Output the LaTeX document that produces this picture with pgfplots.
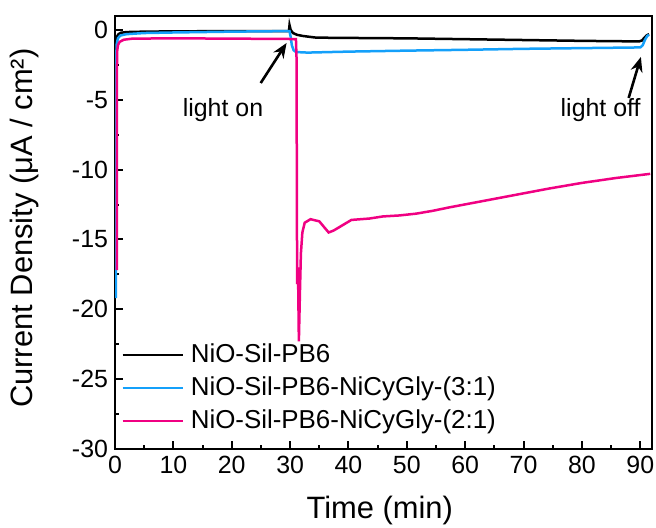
\documentclass[border=0pt]{standalone}
\usepackage{fontspec}
\setmainfont{Liberation Sans}
\usepackage{pgfplots}
\pgfplotsset{compat=1.18}
\usetikzlibrary{arrows.meta}
\definecolor{cblue}{RGB}{20,160,250}
\definecolor{cpink}{RGB}{240,0,130}
\begin{document}
\begin{tikzpicture}
\begin{axis}[
 width=268.5bp, height=216.5bp, scale only axis,
 xmin=0, xmax=92, ymin=-30, ymax=1,
 xtick={0,10,...,90}, ytick={-30,-25,...,0},
 minor x tick num=1, minor y tick num=1,
 xtick pos=bottom, ytick pos=left, tick align=inside,
 major tick length=4bp, minor tick length=2bp,
 every tick/.style={black, line width=1bp},
 axis line style={line width=1bp},
 /pgf/number format/assume math mode=true,
 tick label style={font=\fontsize{12.5}{14}\selectfont},
 xlabel={Time (min)}, ylabel={Current Density (μA / cm²)},
 label style={font=\fontsize{15.5}{18}\selectfont},
 xlabel style={at={(axis description cs:0.493,-0.142)}, anchor=center},
 ylabel style={at={(axis description cs:-0.168,0.51)}, anchor=center},
 legend style={at={(axis description cs:0.011,0.2525)}, anchor=north west,
   draw=none, fill=none, font=\fontsize{13}{15}\selectfont, inner sep=0pt,
   row sep=1.5bp, column sep=2.5bp, nodes={inner sep=1bp, text height=10bp, text depth=3bp}},
 legend cell align=left,
 legend image code/.code={\draw[#1, line width=1.25bp] (0bp,0bp) -- (30bp,0bp);},
]
\addplot[black, line width=1.25bp] coordinates {
(0,-1.0)(0.1,-0.8)(0.3,-0.5)(0.6,-0.3)(1,-0.2)(2,-0.15)(5,-0.12)(10,-0.1)(20,-0.08)(29.8,-0.08)
(29.9,0.35)(30.1,0.0)(30.5,-0.22)(31.2,-0.35)(32.2,-0.43)(33.5,-0.5)(34.5,-0.55)(40,-0.57)
(50,-0.6)(60,-0.66)(70,-0.72)(80,-0.78)(89.8,-0.82)(90.3,-0.75)(90.7,-0.55)(91.1,-0.38)(91.5,-0.3)};
\addlegendentry{NiO-Sil-PB6}
\addplot[cblue, line width=1.25bp] coordinates {
(0.15,-19.2)(0.18,-10)(0.2,-2)(0.3,-1.0)(0.5,-0.6)(0.9,-0.4)(2,-0.3)(5,-0.22)(10,-0.18)(20,-0.12)(29.9,-0.08)
(30.1,-0.5)(30.3,-1.1)(30.6,-1.45)(31,-1.58)(33,-1.62)(40,-1.55)(50,-1.48)(60,-1.42)(70,-1.35)
(80,-1.3)(90,-1.25)(90.4,-1.1)(90.8,-0.7)(91.2,-0.42)(91.5,-0.35)};
\addlegendentry{NiO-Sil-PB6-NiCyGly-(3:1)}
\addplot[cpink, line width=1.25bp] coordinates {
(0.3,-17.2)(0.32,-5)(0.35,-1.6)(0.5,-1.1)(0.8,-0.85)(1.5,-0.7)(3,-0.62)(10,-0.6)(20,-0.62)(31.0,-0.65)
(31.1,-2.0)(31.2,-18.2)(31.35,-17.0)(31.5,-22.3)(31.7,-18.5)(31.85,-16.0)(32.1,-14.5)(32.5,-13.8)
(33.5,-13.55)(35.0,-13.7)(35.8,-14.1)(36.6,-14.5)(37.5,-14.35)(38.5,-14.1)(40.5,-13.6)(43.6,-13.5)
(45.9,-13.35)(48.7,-13.28)(51.6,-13.15)(54.4,-12.95)(57.3,-12.7)(63,-12.25)(68.7,-11.8)(74.4,-11.35)
(80,-10.95)(85.8,-10.6)(91.7,-10.3)};
\addlegendentry{NiO-Sil-PB6-NiCyGly-(2:1)}
\node[font=\fontsize{12.5}{15}\selectfont] at (axis cs:18.5,-5.7) {light on};
\node[font=\fontsize{12.5}{15}\selectfont] at (axis cs:83.2,-5.7) {light off};
\draw[-{Stealth[length=7.5bp,width=6bp]}, line width=1.3bp] (axis cs:24.96,-3.8) -- (axis cs:29.4,-0.93);
\draw[-{Stealth[length=7.5bp,width=6bp]}, line width=1.3bp] (axis cs:88.0,-4.87) -- (axis cs:90.1,-1.93);
\end{axis}
\pgfresetboundingbox
\path (current axis.south west) ++(-57.5bp,-39.5bp) rectangle ++(328bp,264bp);
\end{tikzpicture}
\end{document}
